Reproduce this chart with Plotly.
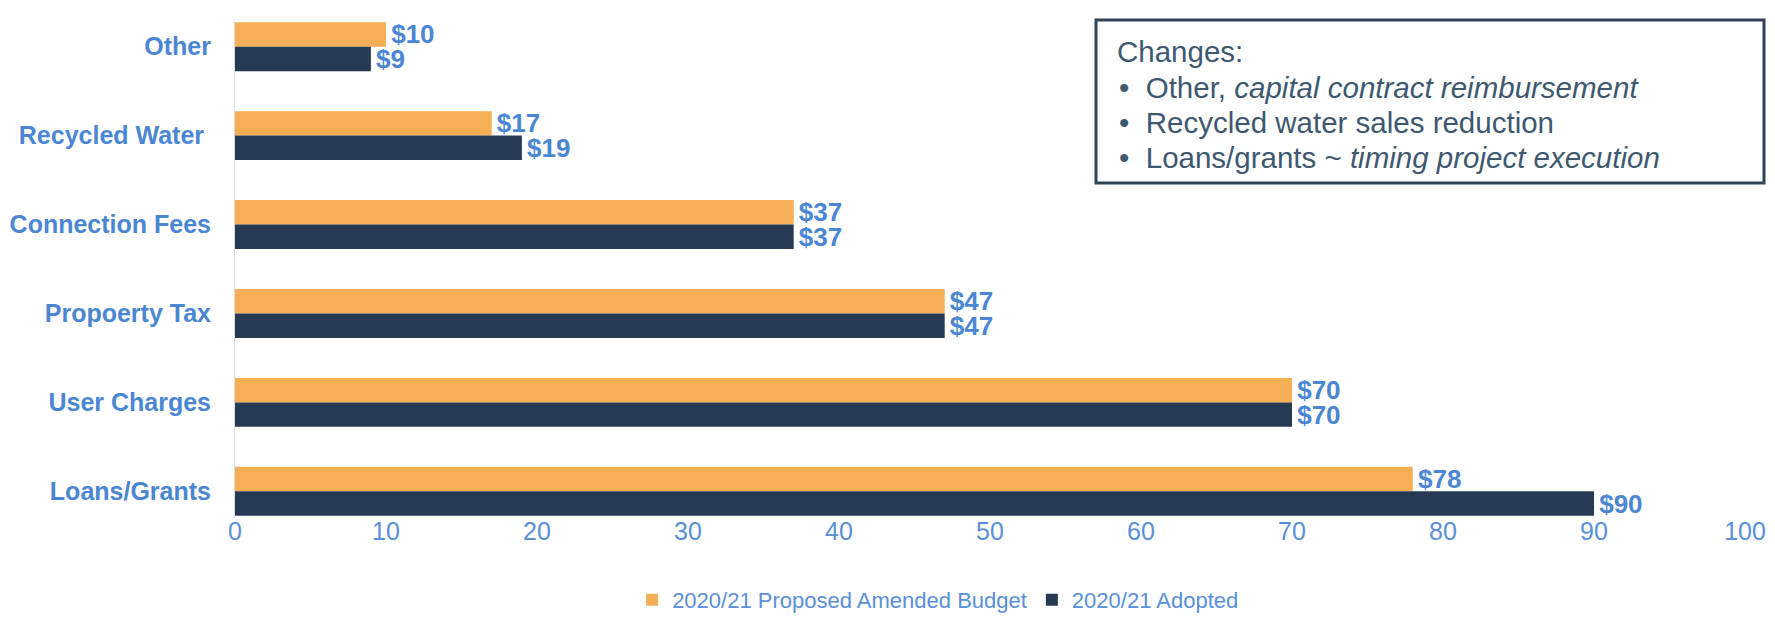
import plotly.graph_objects as go

categories = ["Other", "Recycled Water", "Connection Fees", "Propoerty Tax", "User Charges", "Loans/Grants"]
category_labels = ["Other", "Recycled Water\u00a0", "Connection Fees", "Propoerty Tax", "User Charges", "Loans/Grants"]
proposed = [10, 17, 37, 47, 70, 78]
adopted = [9, 19, 37, 47, 70, 90]
x_ticks = [0, 10, 20, 30, 40, 50, 60, 70, 80, 90, 100]
series_names = ["2020/21 Proposed Amended Budget", "2020/21 Adopted"]
box_lines = [
    "Changes:",
    "•\u00a0\u00a0Other, <i>capital contract reimbursement</i>",
    "•\u00a0\u00a0Recycled water sales reduction",
    "•\u00a0\u00a0Loans/grants ~ <i>timing project execution</i>",
]

ORANGE = "#F5AE54"
NAVY = "#263B53"
BLUE = "#4A86D2"
LBLUE = "#5A8FD8"
FONT = "Liberation Sans, Arial, sans-serif"

# page offset (default body margin) compensation
OFF = 8
# plot area in target-page pixels
L, R, T, B = 235, 1745, 20, 518
W, H = R - L, B - T


def px(x):
    return (x - L) / W


def py(y):
    return (B - y) / H


fig = go.Figure()
for name, vals, col in [(series_names[0], proposed, ORANGE), (series_names[1], adopted, NAVY)]:
    fig.add_trace(go.Bar(
        y=categories, x=vals, name=name, orientation="h",
        marker=dict(color=col, line=dict(width=0)),
        text=[f"\u200a${v}" for v in vals], textposition="outside",
        textfont=dict(family=FONT, size=26, color=BLUE, weight="bold"),
        constraintext="none", cliponaxis=False,
    ))

FW, FH = 1775 - OFF, 621 - OFF
fig.update_layout(
    width=FW, height=FH,
    margin=dict(l=L - OFF, r=FW - (R - OFF), t=T - OFF, b=FH - (B - OFF), autoexpand=False),
    paper_bgcolor="white", plot_bgcolor="white",
    barmode="group", bargap=0.45, bargroupgap=0,
    font=dict(family=FONT, color=LBLUE),
    xaxis=dict(range=[0, 100], tickvals=x_ticks, showgrid=False, zeroline=False,
               showline=False, ticks="", automargin=False,
               tickfont=dict(family=FONT, size=25, color=LBLUE),
               ticklabelstandoff=-4),
    yaxis=dict(categoryorder="array", categoryarray=categories, range=[5.3, -0.3],
               tickmode="array", tickvals=categories, ticktext=category_labels,
               showgrid=False, zeroline=False, showline=True, linecolor="#D6DEE8",
               linewidth=1, ticks="", ticklabelstandoff=18, automargin=False,
               tickfont=dict(family=FONT, size=25, color=BLUE, weight="bold")),
    legend=dict(orientation="h", x=0.263, xanchor="left", y=py(600), yanchor="middle",
                font=dict(family=FONT, size=22, color=LBLUE), itemwidth=30,
                bgcolor="rgba(0,0,0,0)"),
    showlegend=True,
)

fig.add_shape(type="rect", xref="paper", yref="paper",
              x0=px(1096), x1=px(1764), y0=py(183), y1=py(20),
              line=dict(color="#2E4358", width=3), fillcolor="rgba(0,0,0,0)")

line_y = [51, 87, 122, 157]
line_x = [1115, 1117, 1117, 1117]
for txt, lx, ly in zip(box_lines, line_x, line_y):
    fig.add_annotation(
        xref="paper", yref="paper", x=px(lx), y=py(ly), xanchor="left", yanchor="middle",
        text=txt, showarrow=False, align="left",
        font=dict(family=FONT, size=29.5, color="#3E5870"),
    )

fig.write_html("out.html")
